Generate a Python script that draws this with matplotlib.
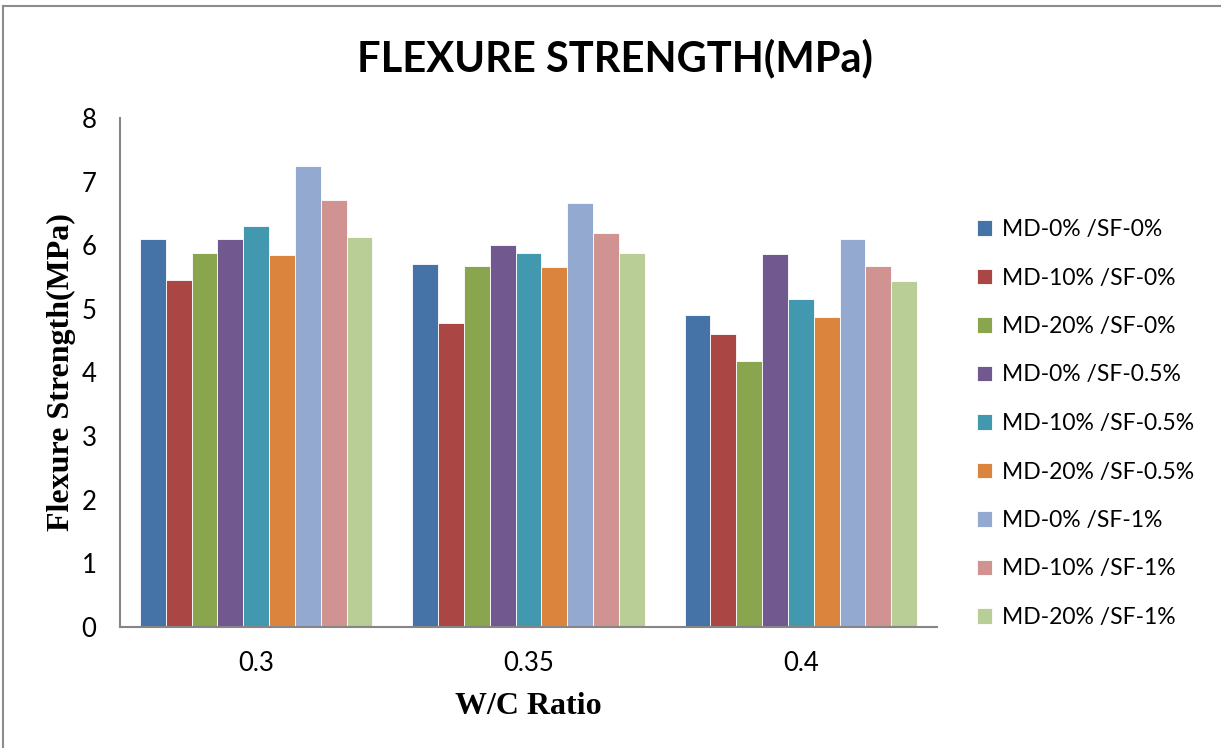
import matplotlib
matplotlib.use("Agg")
import matplotlib.pyplot as plt
import numpy as np

# flexure strength results, one list per mix, values at each w/c ratio
wc_ratio = ["0.3", "0.35", "0.4"]
mixes = ["MD-0% /SF-0%", "MD-10% /SF-0%", "MD-20% /SF-0%",
         "MD-0% /SF-0.5%", "MD-10% /SF-0.5%", "MD-20% /SF-0.5%",
         "MD-0% /SF-1%", "MD-10% /SF-1%", "MD-20% /SF-1%"]
md0_sf0 = [6.1, 5.7, 4.9]
md10_sf0 = [5.45, 4.78, 4.6]
md20_sf0 = [5.88, 5.68, 4.18]
md0_sf05 = [6.1, 6.0, 5.87]
md10_sf05 = [6.3, 5.88, 5.15]
md20_sf05 = [5.85, 5.66, 4.88]
md0_sf1 = [7.25, 6.67, 6.1]
md10_sf1 = [6.71, 6.2, 5.68]
md20_sf1 = [6.13, 5.88, 5.44]
values = [md0_sf0, md10_sf0, md20_sf0, md0_sf05, md10_sf05, md20_sf05,
          md0_sf1, md10_sf1, md20_sf1]

colors = ["#4572A7", "#AA4643", "#89A54E", "#71588F", "#4198AF",
          "#DB843D", "#93A9CF", "#D19392", "#B9CD96"]

sans = ["Lato", "DejaVu Sans"]
serif = ["Liberation Serif", "DejaVu Serif"]

fig = plt.figure(figsize=(12.21, 7.48), dpi=100)
ax = fig.add_axes([120 / 1221, 1 - 627 / 748, 817 / 1221, 509 / 748])

x = np.arange(len(wc_ratio))
w = 0.0948
for i, (vals, c, name) in enumerate(zip(values, colors, mixes)):
    ax.bar(x + (i - 4) * w, vals, width=w, color=c, edgecolor="white",
           linewidth=0.6, label=name, zorder=2)

ax.set_xlim(-0.5, 2.5)
ax.set_ylim(0, 8)
ax.set_yticks(range(0, 9))
ax.set_xticks(x)
ax.set_xticklabels(wc_ratio)
for lab in ax.get_xticklabels() + ax.get_yticklabels():
    lab.set_family(sans)
    lab.set_fontsize(18.5)
ax.tick_params(axis="both", length=0)
ax.tick_params(axis="y", pad=17)
ax.tick_params(axis="x", pad=17)

for side in ["top", "right"]:
    ax.spines[side].set_visible(False)
for side in ["left", "bottom"]:
    ax.spines[side].set_color("#868686")
    ax.spines[side].set_linewidth(1.5)

ax.set_xlabel("W/C Ratio", family=serif, fontweight="bold", fontsize=23,
              labelpad=12)
ax.set_ylabel("Flexure Strength(MPa)", family=serif, fontweight="bold",
              fontsize=23, labelpad=4)

fig.text(615 / 1221, 1 - 58 / 748, "FLEXURE STRENGTH(MPa)", family=sans,
         fontweight="bold", fontsize=30, ha="center", va="center")

fig.legend(loc="upper left", bbox_to_anchor=(977 / 1221, 1 - 219 / 748),
           frameon=False, prop={"family": sans, "size": 16.5},
           handlelength=0.67, handleheight=0.67, handletextpad=0.42,
           labelspacing=1.2, borderaxespad=0, borderpad=0)

# outer frame of the chart area
fig.add_artist(plt.Line2D([3 / 1221, 3 / 1221], [0, 1 - 6 / 748],
                          transform=fig.transFigure, color="#8c8c8c", lw=1.5))
fig.add_artist(plt.Line2D([3 / 1221, 1], [1 - 6 / 748, 1 - 6 / 748],
                          transform=fig.transFigure, color="#8c8c8c", lw=1.5))

fig.savefig("out.png", dpi=100)
